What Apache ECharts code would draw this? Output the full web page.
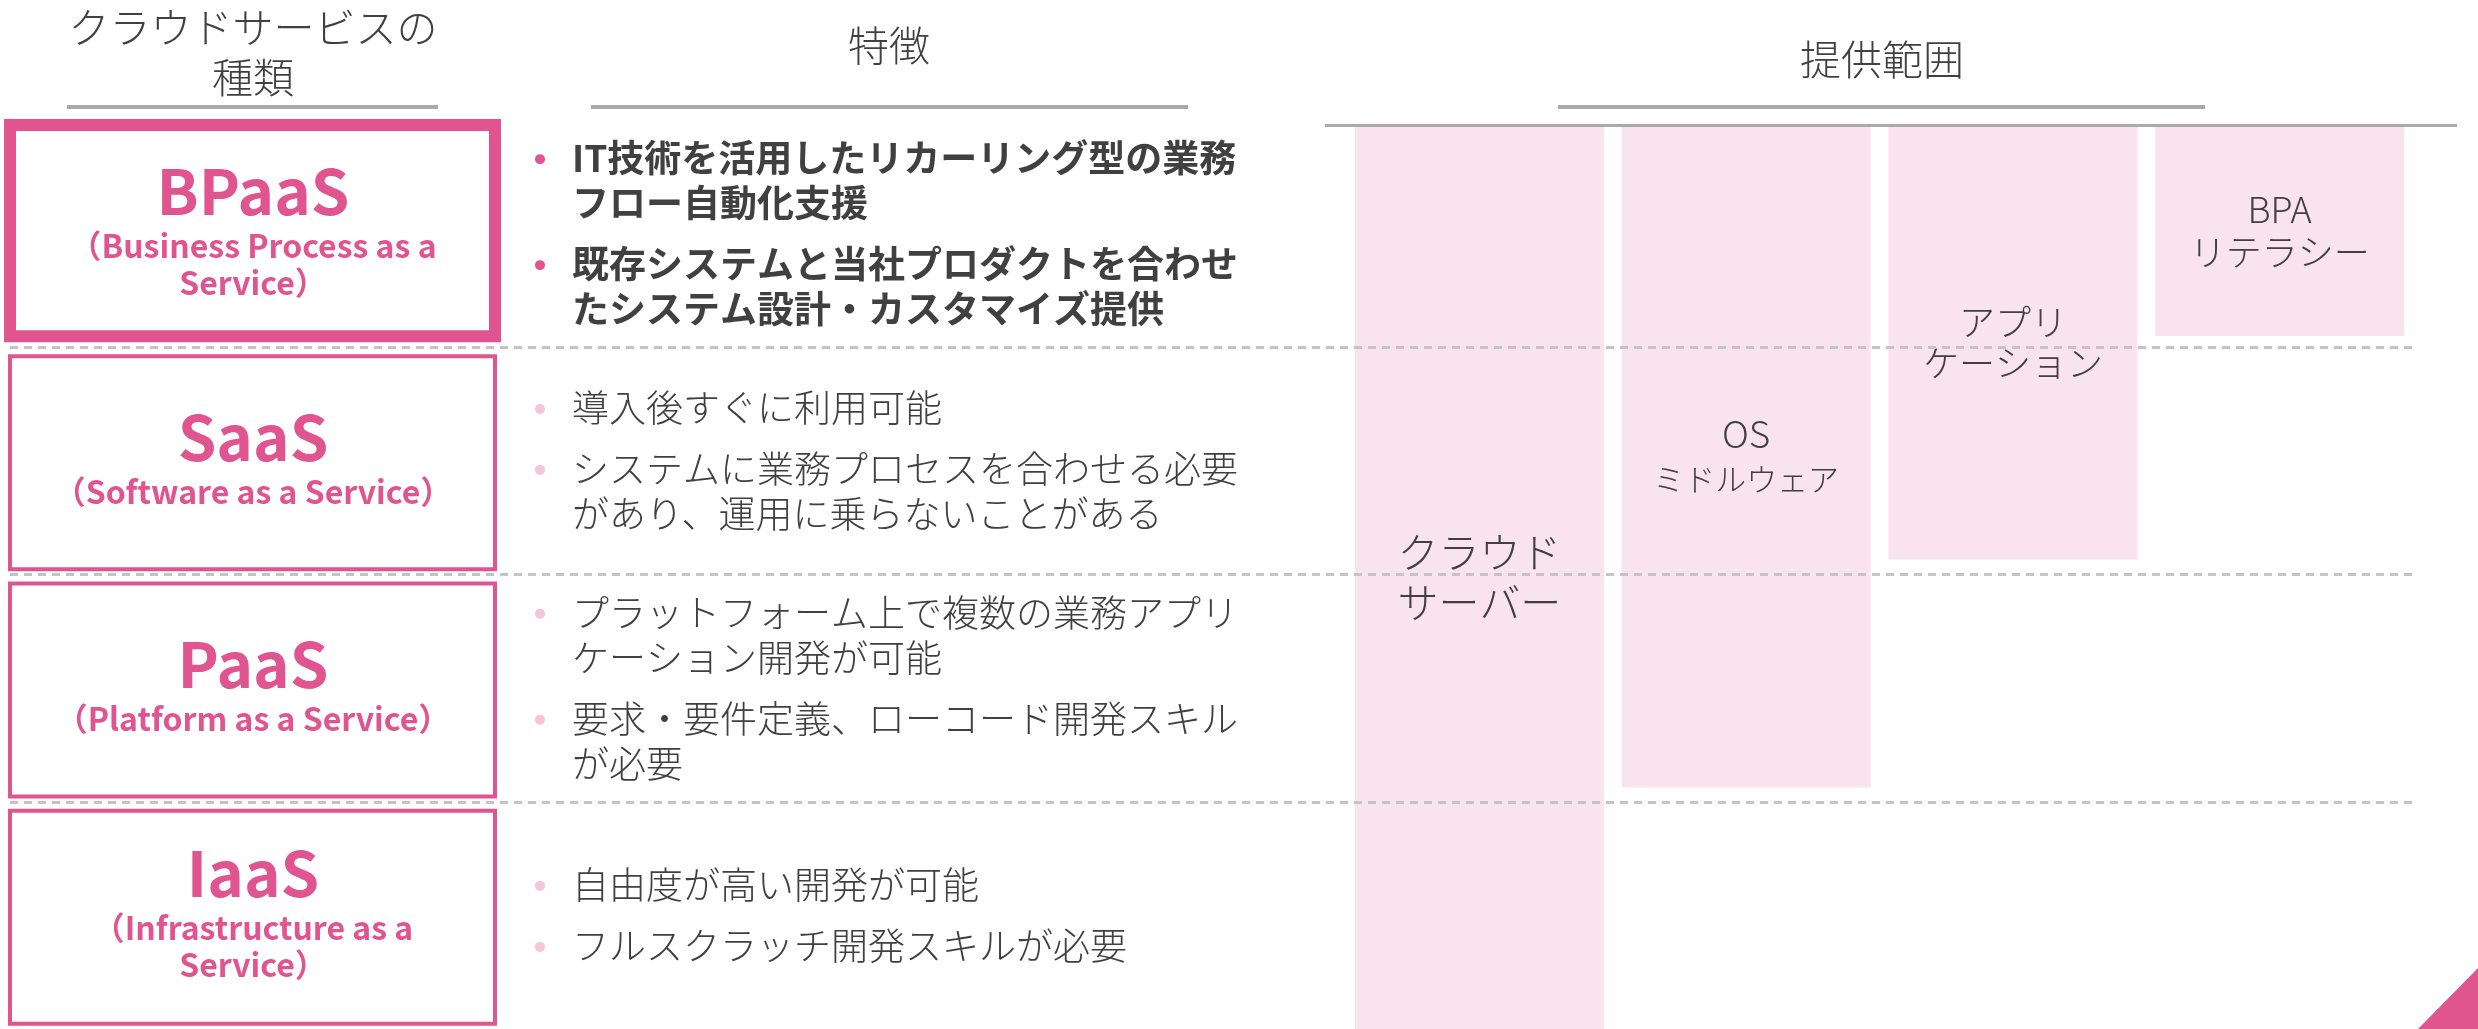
<!DOCTYPE html>
<html><head><meta charset="utf-8">
<script src="https://cdn.jsdelivr.net/npm/echarts@6/dist/echarts.min.js"></script>
<style>html,body{margin:0;padding:0;background:#fff}#c{width:2478px;height:1029px}</style>
</head><body><div id="c"></div>
<script>
// ---- data ----
const headers = ['クラウドサービスの\n種類', '特徴', '提供範囲'];
const serviceTypes = ['BPaaS', 'SaaS', 'PaaS', 'IaaS'];
const serviceNames = [
  ['（Business Process as a', 'Service）'],
  ['（Software as a Service）'],
  ['（Platform as a Service）'],
  ['（Infrastructure as a', 'Service）']
];
const features = [
  [['IT技術を活用したリカーリング型の業務', 'フロー自動化支援'], ['既存システムと当社プロダクトを合わせ', 'たシステム設計・カスタマイズ提供']],
  [['導入後すぐに利用可能'], ['システムに業務プロセスを合わせる必要', 'があり、運用に乗らないことがある']],
  [['プラットフォーム上で複数の業務アプリ', 'ケーション開発が可能'], ['要求・要件定義、ローコード開発スキル', 'が必要']],
  [['自由度が高い開発が可能'], ['フルスクラッチ開発スキルが必要']]
];
const highlighted = [true, false, false, false];
const scopeLayers = ['クラウドサーバー', 'OSミドルウェア', 'アプリケーション', 'BPAリテラシー'];
const scopeLabelLines = [['クラウド', 'サーバー'], ['OS', 'ミドルウェア'], ['アプリ', 'ケーション'], ['BPA', 'リテラシー']];
const scopeReach = [4, 2.93, 1.92, 0.93];

// ---- styles ----
const PINK = '#E05590';
const PINK_LIGHT = '#F9E4EE';
const DOT_LIGHT = '#F5C5D9';
const TXT = '#404040';
const FONT = '"Noto Sans CJK JP", "Noto Sans", sans-serif';

const chart = echarts.init(document.getElementById('c'), null, { renderer: 'canvas' });

function renderRow(params, api) {
  const i = api.value(1);
  const c = api.coord([0, i]);
  const bh = api.size([0, 1])[1];
  const gx = params.coordSys.x;
  const top = c[1] - bh / 2, bottom = c[1] + bh / 2;
  const hi = highlighted[i];
  const children = [];
  const ry = hi ? top + 5 : top + 9;
  const rh = hi ? (bottom - 11) - ry : 213;
  children.push({
    type: 'rect',
    shape: { x: gx, y: ry, width: 485, height: rh },
    style: { fill: '#fff', stroke: PINK, lineWidth: hi ? 12 : 4 }
  });
  // title block
  const L1 = 72, L2 = 37;
  const names = serviceNames[i];
  const blockH = L1 + names.length * L2;
  let y0 = c[1] - 5 - blockH / 2;
  children.push({
    type: 'text', x: gx + 243, y: y0 + L1 / 2,
    style: { text: serviceTypes[i], fill: PINK, fontSize: 62, fontWeight: 'bold', fontFamily: FONT, align: 'center', verticalAlign: 'middle' }
  });
  names.forEach((s, k) => {
    children.push({
      type: 'text', x: gx + 243, y: y0 + L1 + L2 * k + L2 / 2,
      style: { text: s, fill: PINK, fontSize: 32, fontWeight: 'bold', fontFamily: FONT, align: 'center', verticalAlign: 'middle' }
    });
  });
  // bullets
  const LH = 45, GAP = 16;
  const bullets = features[i];
  let nLines = 0; bullets.forEach(b => nLines += b.length);
  const totalH = nLines * LH + (bullets.length - 1) * GAP;
  let y = c[1] - totalH / 2 + LH / 2;
  bullets.forEach((b) => {
    children.push({
      type: 'circle', shape: { cx: gx + 530, cy: y + 1, r: 5 },
      style: { fill: hi ? PINK : DOT_LIGHT }
    });
    b.forEach((line) => {
      children.push({
        type: 'text', x: gx + 562, y: y,
        style: { text: line, fill: TXT, fontSize: 37, fontWeight: hi ? 'bold' : 300, fontFamily: FONT, align: 'left', verticalAlign: 'middle' }
      });
      y += LH;
    });
    y += GAP;
  });
  return { type: 'group', children };
}

const labelSizes = [[41, 41, 50], [37, 31, 45], [36, 36, 41], [36, 36, 43]];
const barData = scopeReach.map((v, i) => ({
  value: v,
  label: {
    show: true,
    position: 'inside',
    formatter: '{a|' + scopeLabelLines[i][0] + '}\n{b|' + scopeLabelLines[i][1] + '}',
    rich: {
      a: { fontSize: labelSizes[i][0], lineHeight: labelSizes[i][2], color: TXT, fontFamily: FONT, fontWeight: 300, align: 'center' },
      b: { fontSize: labelSizes[i][1], lineHeight: labelSizes[i][2], color: TXT, fontFamily: FONT, fontWeight: 300, align: 'center' }
    }
  }
}));

const option = {
  backgroundColor: '#fff',
  animation: false,
  grid: [
    { left: 10, top: 120, width: 2402, height: 916 },
    { left: 1346, top: 126, width: 1067, height: 916 }
  ],
  xAxis: [
    { gridIndex: 0, type: 'value', min: 0, max: 1, show: false },
    { gridIndex: 1, type: 'category', data: scopeLayers, show: false }
  ],
  yAxis: [
    {
      gridIndex: 0, type: 'category', data: serviceTypes, inverse: true, z: 10,
      axisLine: { show: false }, axisTick: { show: false }, axisLabel: { show: false },
      splitLine: { show: true, showMinLine: false, showMaxLine: false, lineStyle: { color: '#c4c4c4', width: 3, type: [8, 6] } }
    },
    { gridIndex: 1, type: 'value', min: 0, max: 4, inverse: true, show: false }
  ],
  graphic: [
    { type: 'text', x: 253, y: 52, style: { text: headers[0], fill: TXT, fontSize: 41, fontWeight: 300, fontFamily: FONT, align: 'center', verticalAlign: 'middle', lineHeight: 50 } },
    { type: 'text', x: 889, y: 45, style: { text: headers[1], fill: TXT, fontSize: 41, fontWeight: 300, fontFamily: FONT, align: 'center', verticalAlign: 'middle' } },
    { type: 'text', x: 1882, y: 59, style: { text: headers[2], fill: TXT, fontSize: 41, fontWeight: 300, fontFamily: FONT, align: 'center', verticalAlign: 'middle' } },
    { type: 'line', shape: { x1: 67, y1: 107, x2: 438, y2: 107 }, style: { stroke: '#aaaaaa', lineWidth: 4 } },
    { type: 'line', shape: { x1: 591, y1: 107, x2: 1188, y2: 107 }, style: { stroke: '#aaaaaa', lineWidth: 4 } },
    { type: 'line', shape: { x1: 1558, y1: 107, x2: 2205, y2: 107 }, style: { stroke: '#aaaaaa', lineWidth: 4 } },
    { type: 'line', z: 100, shape: { x1: 1325, y1: 125.5, x2: 2457, y2: 125.5 }, style: { stroke: 'rgba(150,150,150,0.8)', lineWidth: 3 } },
    { type: 'polygon', z: 100, shape: { points: [[2418, 1029], [2478, 968], [2478, 1029]] }, style: { fill: PINK } }
  ],
  series: [
    {
      type: 'bar', xAxisIndex: 1, yAxisIndex: 1, barWidth: 249, z: 2,
      itemStyle: { color: PINK_LIGHT },
      data: barData
    },
    {
      type: 'custom', xAxisIndex: 0, yAxisIndex: 0, z: 3,
      renderItem: renderRow,
      data: serviceTypes.map((_, i) => [0, i])
    }
  ]
};
chart.setOption(option);
</script>
</body></html>
